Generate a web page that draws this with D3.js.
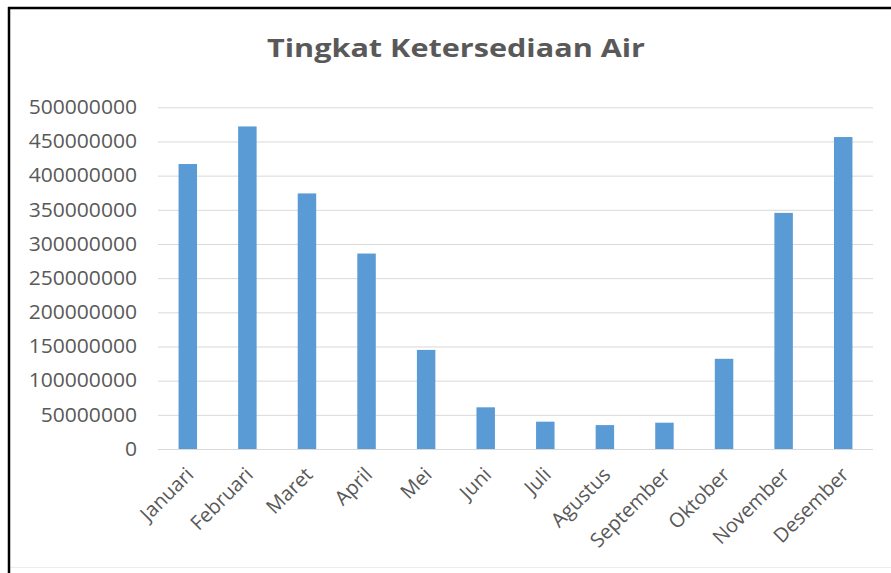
<!DOCTYPE html>
<html><head><meta charset="utf-8">
<script src="https://cdn.jsdelivr.net/npm/d3@7"></script>
<style>body{margin:0;background:#fff;}svg{display:block;}</style>
</head><body>
<svg id="c" width="891" height="573"></svg>
<script>
const title = "Tingkat Ketersediaan Air";
const categories = ["Januari","Februari","Maret","April","Mei","Juni","Juli","Agustus","September","Oktober","November","Desember"];
const values = [417000000,472000000,374000000,286000000,145000000,61000000,40000000,35000000,38500000,132000000,345500000,456500000];
const yTicks = [0,50000000,100000000,150000000,200000000,250000000,300000000,350000000,400000000,450000000,500000000];

const svg = d3.select("#c");
const W = 891, H = 573;
const m = {left:158, right:873, top:107.3, bottom:449};
const font = "'Open Sans', sans-serif";
const textColor = "#595959";

svg.append("rect").attr("width",W).attr("height",H).attr("fill","#fff");

const x = d3.scaleBand().domain(categories).range([m.left, m.right]).paddingInner(0.69).paddingOuter(0.345);
const y = d3.scaleLinear().domain([0,500000000]).range([m.bottom, m.top]);

// gridlines
const grid = svg.append("g").attr("transform",`translate(${m.left},0)`)
  .call(d3.axisLeft(y).tickValues(yTicks).tickSize(-(m.right-m.left)).tickFormat(""));
grid.select(".domain").remove();
grid.selectAll("line").attr("stroke","#d9d9d9").attr("stroke-width",1);

// y labels
const yAxis = svg.append("g").attr("transform",`translate(${m.left},0)`)
  .call(d3.axisLeft(y).tickValues(yTicks).tickSize(0).tickPadding(21).tickFormat(d=>String(d)));
yAxis.select(".domain").remove();
const yStretch = 1.08;
yAxis.selectAll("text").attr("font-family",font).attr("font-size","19.5px").attr("fill",textColor)
  .each(function(){ const L=this.getComputedTextLength(); d3.select(this).attr("textLength",L*yStretch).attr("lengthAdjust","spacingAndGlyphs"); });

// bars
svg.append("g").selectAll("rect").data(values).join("rect")
  .attr("x",(d,i)=>x(categories[i]))
  .attr("width",x.bandwidth())
  .attr("y",d=>y(d))
  .attr("height",d=>y(0)-y(d))
  .attr("fill","#5b9bd5");

// x axis line
svg.append("line").attr("x1",m.left).attr("x2",m.right).attr("y1",y(0)+0.5).attr("y2",y(0)+0.5)
  .attr("stroke","#d9d9d9").attr("stroke-width",1);

// x labels
const xAxis = svg.append("g").attr("transform",`translate(0,${m.bottom})`)
  .call(d3.axisBottom(x).tickSize(0).tickFormat(d=>d));
xAxis.select(".domain").remove();
xAxis.selectAll("text")
  .attr("font-family",font).attr("font-size","20px").attr("fill",textColor)
  .attr("text-anchor","end").attr("dy","0.35em").attr("y",0)
  .attr("transform","translate(2,22) rotate(-45)");

// title
const t = svg.append("text").attr("x",456).attr("y",57).attr("text-anchor","middle")
  .attr("font-family",font).attr("font-weight","bold").attr("font-size","24.5px").attr("fill",textColor)
  .text(title);
t.attr("textLength",378).attr("lengthAdjust","spacingAndGlyphs");

// frame
svg.append("line").attr("x1",10).attr("x2",W).attr("y1",567.5).attr("y2",567.5).attr("stroke","#ececec").attr("stroke-width",1);
svg.append("line").attr("x1",9).attr("x2",9).attr("y1",7).attr("y2",H).attr("stroke","#000").attr("stroke-width",2.5);
svg.append("line").attr("x1",8).attr("x2",W).attr("y1",8).attr("y2",8).attr("stroke","#000").attr("stroke-width",2.5);
</script>
</body></html>
